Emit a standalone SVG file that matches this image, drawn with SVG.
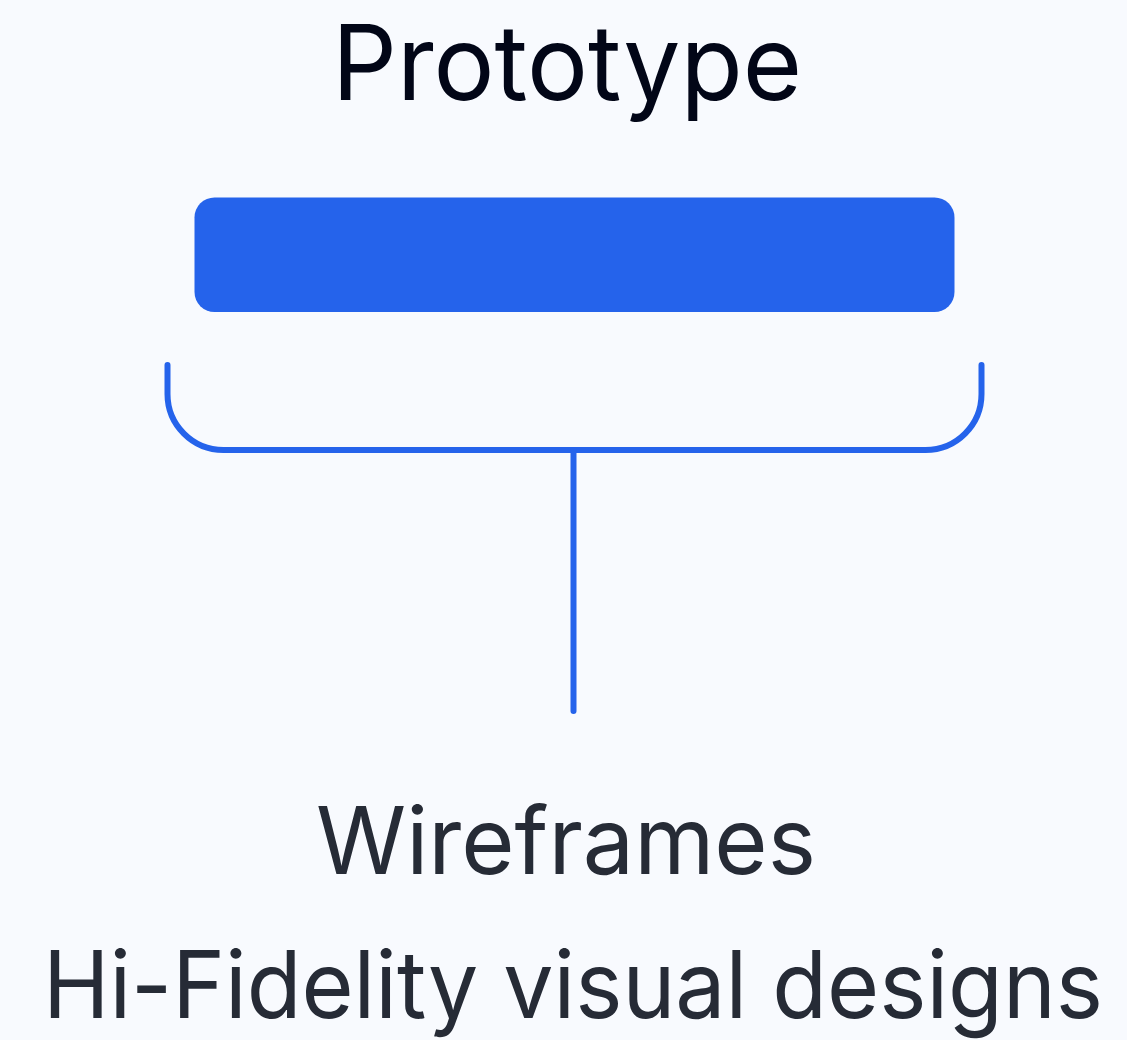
<svg xmlns="http://www.w3.org/2000/svg" width="1127" height="1040" viewBox="0 0 1127 1040">
<style>
.title{font-family:Inter,"Noto Sans",sans-serif;font-size:104px;fill:#020617;text-anchor:middle}
.label{font-family:Inter,"Noto Sans",sans-serif;font-size:93px;fill:#262b36;text-anchor:middle}
.conn{fill:none;stroke:#2563eb;stroke-width:6;stroke-linecap:round;stroke-linejoin:round}
</style>
<rect width="1127" height="1040" fill="#f8fafe"/>
<g id="title"><text class="title" x="567" y="100" textLength="470" lengthAdjust="spacingAndGlyphs">Prototype</text></g>
<g id="prototype-bar"><rect x="194.5" y="197.5" width="760" height="114.5" rx="20" fill="#2563eb"/></g>
<g id="connectors">
<path class="conn" d="M167.5 365 V394 A56 56 0 0 0 223.5 450 H925.5 A56 56 0 0 0 981.5 394 V365"/>
<path class="conn" d="M573.5 450 V711"/>
</g>
<g id="items">
<text class="label" x="566" y="874" textLength="500" lengthAdjust="spacingAndGlyphs">Wireframes</text>
<text class="label" x="573" y="1018" textLength="1060" lengthAdjust="spacingAndGlyphs">Hi-Fidelity visual designs</text>
</g>
</svg>
